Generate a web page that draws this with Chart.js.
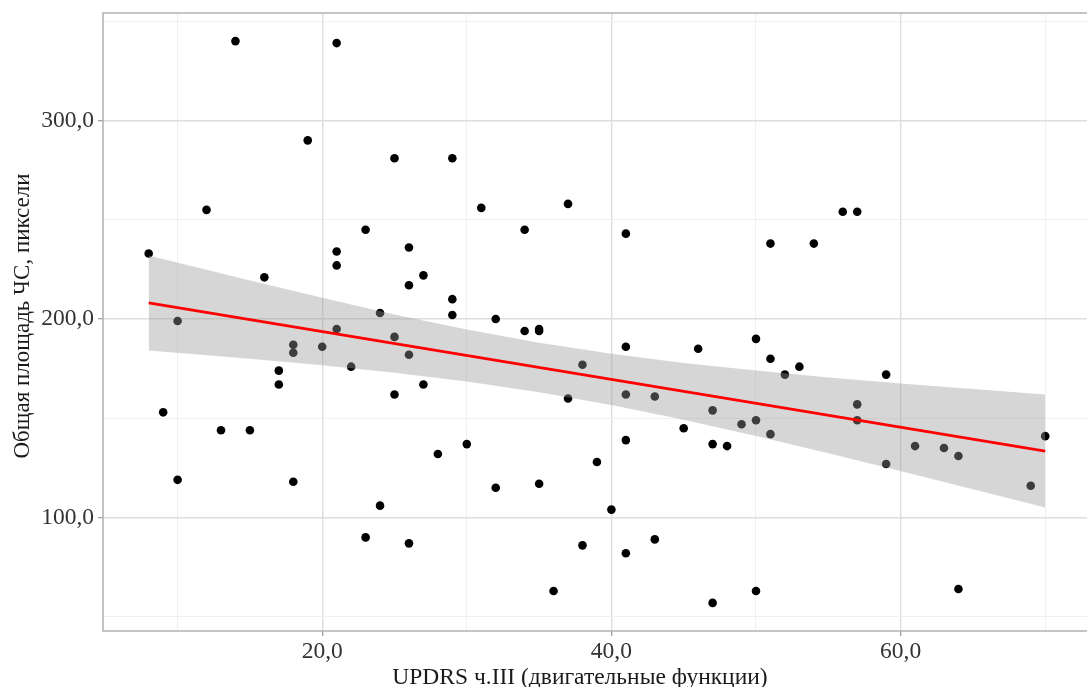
<!DOCTYPE html>
<html>
<head>
<meta charset="utf-8">
<script src="https://cdn.jsdelivr.net/npm/chart.js@4.4.0/dist/chart.umd.min.js"></script>
<style>
  html, body { margin: 0; padding: 0; background: #fff; overflow: hidden; }
</style>
</head>
<body>
<!-- a little wider than the window so the panel runs past the right edge -->
<canvas id="scatterChart" width="1092" height="687"></canvas>
<script>
// UPDRS part III score vs total area, one point per patient
const updrs = [
  8, 9, 10, 10, 12, 13, 14, 15, 16, 17, 17, 18, 18, 18, 19, 20,
  21, 21, 21, 21, 22, 23, 23, 24, 24, 25, 25, 25, 26, 26, 26, 26,
  27, 27, 28, 29, 29, 29, 30, 31, 32, 32, 34, 34, 35, 35, 35, 36,
  37, 37, 38, 38, 39, 40, 41, 41, 41, 41, 41, 43, 43, 45, 46, 47,
  47, 47, 48, 49, 50, 50, 50, 51, 51, 51, 52, 53, 54, 56, 57, 57,
  57, 59, 59, 61, 63, 64, 64, 69, 70
];
const area = [
  233, 153, 199, 119, 255, 144, 340, 144, 221, 174, 167, 187, 183, 118, 290, 186,
  339, 234, 227, 195, 176, 245, 90, 203, 106, 281, 191, 162, 236, 217, 182, 87,
  222, 167, 132, 281, 210, 202, 137, 256, 200, 115, 245, 194, 195, 194, 117, 63,
  258, 160, 177, 86, 128, 104, 243, 186, 162, 139, 82, 161, 89, 145, 185, 154,
  137, 57, 136, 147, 190, 149, 63, 238, 180, 142, 172, 176, 238, 254, 254, 157,
  149, 172, 127, 136, 135, 131, 64, 116, 141
];

// linear fit and its 95% band
const fitX = [8, 70];
const fitY = [208.1, 133.5];
const bandX = [8, 15, 20, 25, 30, 35, 40, 45, 50, 55, 60, 65, 70];
const bandUpper = [232.0, 219.4, 210.7, 202.3, 194.7, 188.1, 182.5, 177.9, 174.1, 170.6, 167.5, 164.7, 162.0];
const bandLower = [184.2, 180.0, 176.7, 172.9, 168.5, 163.1, 156.7, 149.3, 141.1, 132.4, 123.5, 114.3, 105.0];

const xTicks = [10, 20, 30, 40, 50, 60, 70];
const xMajor = [20, 40, 60];
const yTicks = [50, 100, 150, 200, 250, 300, 350];
const yMajor = [100, 200, 300];

const xTitle = 'UPDRS ч.III (двигательные функции)';
const yTitle = 'Общая площадь ЧС, пиксели';

const serif = '"Liberation Serif", "DejaVu Serif", serif';
const fontSize = 23.5;

function commaLabel(v) {
  return v.toFixed(1).replace('.', ',');
}

function toPoints(xs, ys) {
  return xs.map((x, i) => ({ x: x, y: ys[i] }));
}

// grey frame on the left, top and bottom of the panel
const panelBorder = {
  id: 'panelBorder',
  afterDatasetsDraw(chart) {
    const { ctx, chartArea: a } = chart;
    ctx.save();
    ctx.strokeStyle = '#b3b3b3';
    ctx.lineWidth = 1.6;
    ctx.beginPath();
    ctx.moveTo(a.right + 5, a.top);
    ctx.lineTo(a.left, a.top);
    ctx.lineTo(a.left, a.bottom);
    ctx.lineTo(a.right + 5, a.bottom);
    ctx.stroke();
    ctx.restore();
  }
};

// axis titles
const axisTitles = {
  id: 'axisTitles',
  afterDraw(chart) {
    const ctx = chart.ctx;
    ctx.save();
    ctx.font = fontSize + 'px ' + serif;
    ctx.fillStyle = '#1a1a1a';
    ctx.textAlign = 'center';
    ctx.textBaseline = 'alphabetic';
    ctx.fillText(xTitle, 580, 684);

    ctx.font = '23px ' + serif;
    ctx.translate(29, 316);
    ctx.rotate(-Math.PI / 2);
    ctx.fillText(yTitle, 0, 0);
    ctx.restore();
  }
};

function gridColor(major) {
  return ctx => major.includes(ctx.tick.value) ? '#dedede' : '#f0f0f0';
}
function gridWidth(major) {
  return ctx => major.includes(ctx.tick.value) ? 1.4 : 1;
}
function tickColor(major) {
  return ctx => major.includes(ctx.tick.value) ? '#9a9a9a' : 'rgba(0,0,0,0)';
}

new Chart(document.getElementById('scatterChart'), {
  type: 'scatter',
  data: {
    datasets: [
      {
        type: 'line',
        data: toPoints(fitX, fitY),
        borderColor: '#ff0000',
        borderWidth: 2.8,
        pointRadius: 0,
        fill: false,
        order: 0
      },
      {
        type: 'line',
        data: toPoints(bandX, bandUpper),
        borderWidth: 0,
        pointRadius: 0,
        backgroundColor: 'rgba(153,153,153,0.4)',
        fill: '+1',
        order: 1
      },
      {
        type: 'line',
        data: toPoints(bandX, bandLower),
        borderWidth: 0,
        pointRadius: 0,
        fill: false,
        order: 2
      },
      {
        data: toPoints(updrs, area),
        backgroundColor: '#000000',
        borderWidth: 0,
        pointRadius: 4.3,
        order: 3
      }
    ]
  },
  options: {
    responsive: false,
    animation: false,
    events: [],
    layout: { padding: { top: 13, right: 0, bottom: 0, left: 0 } },
    plugins: {
      legend: { display: false },
      tooltip: { enabled: false }
    },
    scales: {
      x: {
        type: 'linear',
        min: 4.84,
        max: 72.94,
        afterBuildTicks: s => { s.ticks = xTicks.map(v => ({ value: v })); },
        afterFit: s => {
          s.height = 56;
          s.paddingLeft = 0;
          s.paddingRight = 0;
        },
        border: { display: false },
        grid: {
          color: gridColor(xMajor),
          lineWidth: gridWidth(xMajor),
          tickColor: tickColor(xMajor),
          tickLength: 5,
          tickWidth: 1.2
        },
        ticks: {
          autoSkip: false,
          maxRotation: 0,
          padding: 2,
          color: '#333333',
          font: { family: serif, size: fontSize },
          callback: v => xMajor.includes(v) ? commaLabel(v) : ''
        }
      },
      y: {
        type: 'linear',
        min: 42.85,
        max: 354.15,
        afterBuildTicks: s => { s.ticks = yTicks.map(v => ({ value: v })); },
        afterFit: s => {
          s.width = 103;
          s.paddingTop = 0;
          s.paddingBottom = 0;
        },
        border: { display: false },
        grid: {
          color: gridColor(yMajor),
          lineWidth: gridWidth(yMajor),
          tickColor: tickColor(yMajor),
          tickLength: 5,
          tickWidth: 1.2
        },
        ticks: {
          padding: 4,
          color: '#333333',
          font: { family: serif, size: fontSize },
          callback: v => yMajor.includes(v) ? commaLabel(v) : ''
        }
      }
    }
  },
  plugins: [panelBorder, axisTitles]
});
</script>
</body>
</html>
